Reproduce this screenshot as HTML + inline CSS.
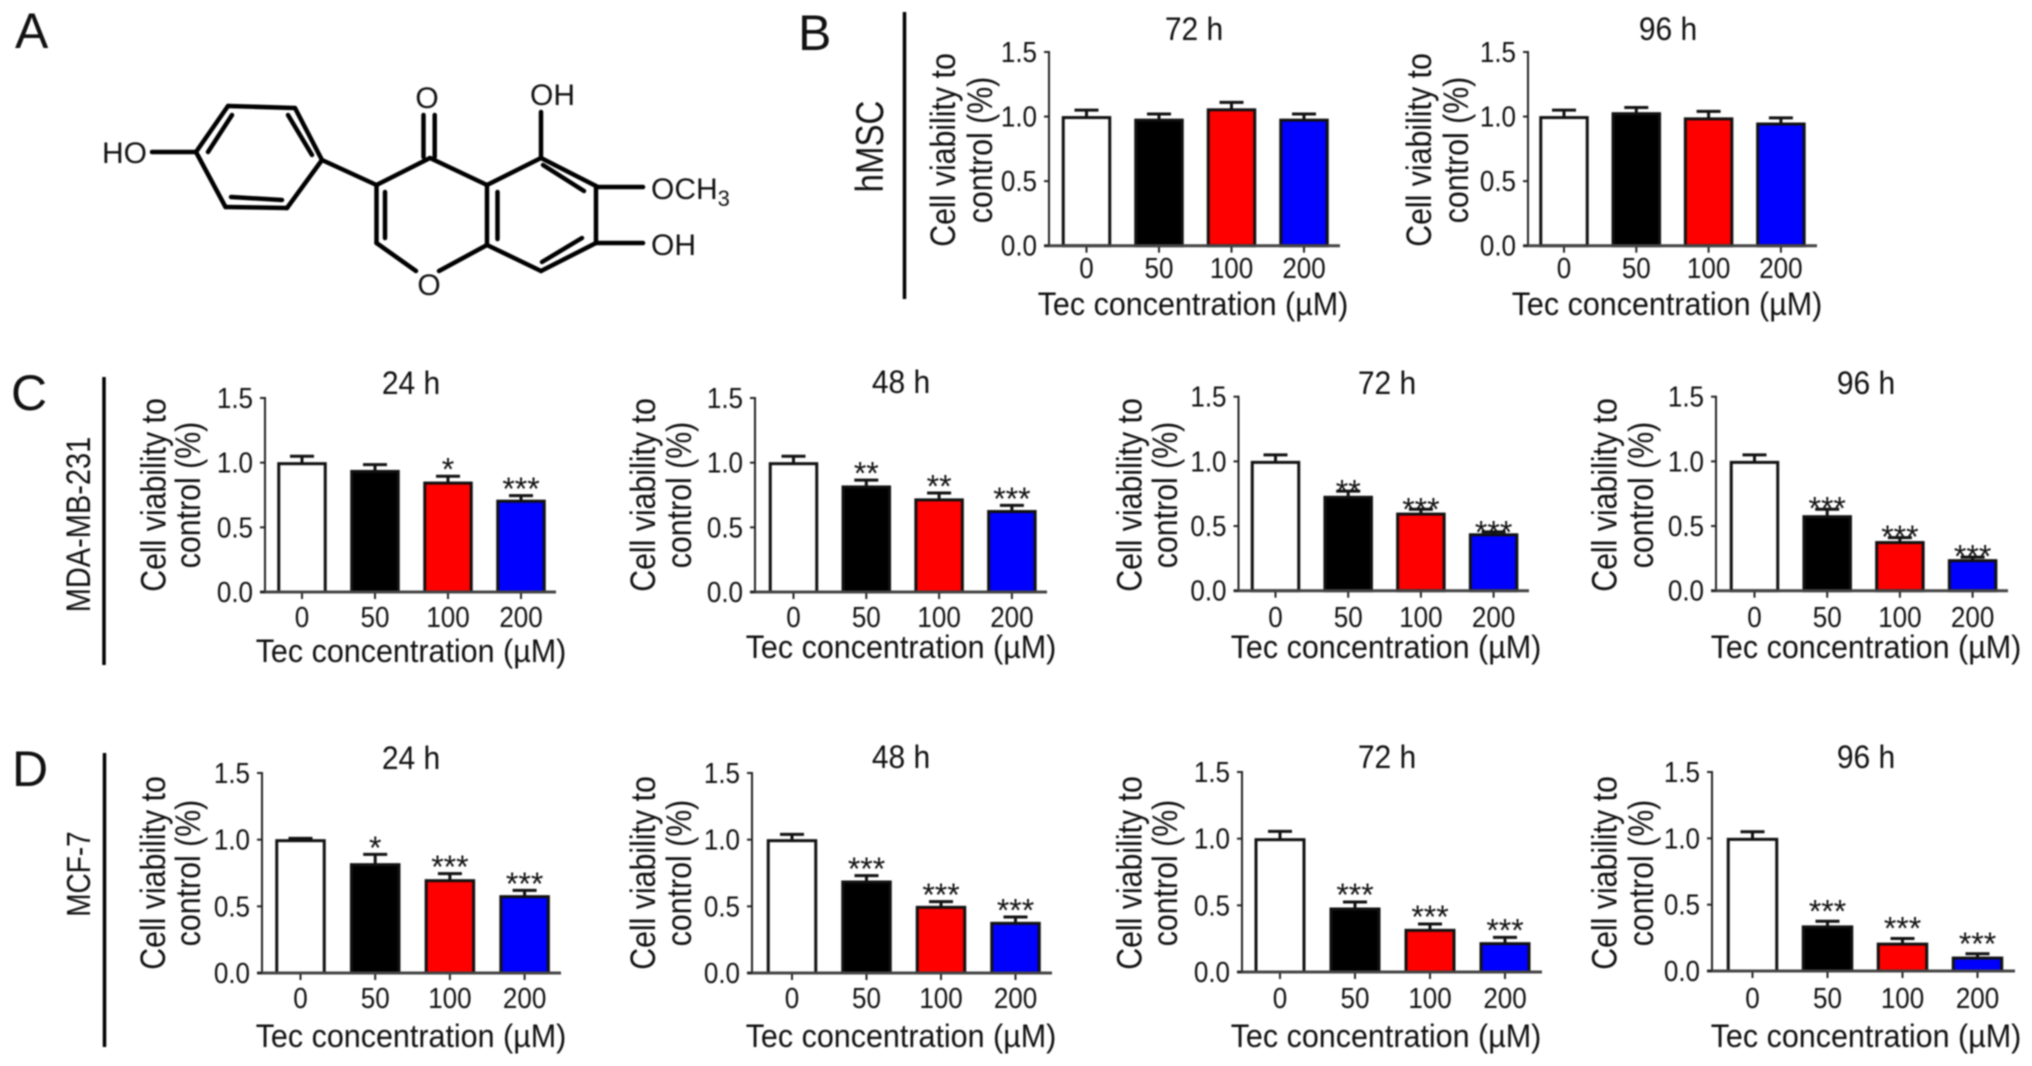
<!DOCTYPE html>
<html lang="en">
<head>
<meta charset="utf-8">
<title>Tectorigenin cell viability figure</title>
<style>
html,body{margin:0;padding:0;background:#fff;width:2032px;height:1066px;overflow:hidden}
svg{display:block;filter:blur(0.85px)}
text{font-family:"Liberation Sans",sans-serif;fill:#111}
.mol line{stroke:#000;stroke-width:4.5;stroke-linecap:round}
</style>
</head>
<body>
<svg id="figure" xmlns="http://www.w3.org/2000/svg" width="2032" height="1066" viewBox="0 0 2032 1066">
  <rect width="2032" height="1066" fill="#fff"/>
  <text x="15" y="48" font-size="50">A</text>
  <text x="798" y="50" font-size="50">B</text>
  <text x="11" y="410" font-size="50">C</text>
  <text x="12" y="786" font-size="50">D</text>

  <line x1="904.5" y1="12" x2="904.5" y2="299" stroke="#000" stroke-width="3.5"/>
  <line x1="104" y1="377" x2="104" y2="665" stroke="#000" stroke-width="3.5"/>
  <line x1="104.5" y1="753" x2="104.5" y2="1047" stroke="#000" stroke-width="3.5"/>

  <text transform="translate(883 146.5) rotate(-90) scale(1 1.18)" text-anchor="middle" font-size="33">hMSC</text>
  <text transform="translate(90 524.5) rotate(-90) scale(1 1.18)" text-anchor="middle" font-size="29">MDA-MB-231</text>
  <text transform="translate(90 874) rotate(-90) scale(1 1.18)" text-anchor="middle" font-size="28">MCF-7</text>

  <g class="mol">
    <line x1="152" y1="152" x2="196" y2="152"/>
    <line x1="196" y1="152" x2="228" y2="106"/>
    <line x1="228" y1="106" x2="295" y2="108"/>
    <line x1="295" y1="108" x2="322" y2="160"/>
    <line x1="322" y1="160" x2="287" y2="208"/>
    <line x1="287" y1="208" x2="225.5" y2="207"/>
    <line x1="225.5" y1="207" x2="196" y2="152"/>
    <line x1="232" y1="115" x2="208" y2="152"/>
    <line x1="288" y1="115" x2="312" y2="155"/>
    <line x1="282" y1="200" x2="231" y2="197"/>
    <line x1="322" y1="160" x2="376.5" y2="185"/>
    <line x1="376.5" y1="185" x2="430" y2="158"/>
    <line x1="430" y1="158" x2="487" y2="185"/>
    <line x1="487" y1="185" x2="487" y2="245"/>
    <line x1="487" y1="245" x2="439" y2="271"/>
    <line x1="376.5" y1="185" x2="376.5" y2="243"/>
    <line x1="376.5" y1="243" x2="416" y2="271"/>
    <line x1="385" y1="192" x2="385" y2="238"/>
    <line x1="423.5" y1="115" x2="423.5" y2="157"/>
    <line x1="434.7" y1="115" x2="434.7" y2="157"/>
    <line x1="487" y1="185" x2="541" y2="158"/>
    <line x1="541" y1="158" x2="596" y2="186"/>
    <line x1="596" y1="186" x2="596" y2="243"/>
    <line x1="596" y1="243" x2="541" y2="271"/>
    <line x1="541" y1="271" x2="487" y2="245"/>
    <line x1="541" y1="112" x2="541" y2="158"/>
    <line x1="543" y1="165" x2="584" y2="191"/>
    <line x1="497.5" y1="192" x2="497.5" y2="239"/>
    <line x1="582" y1="238" x2="542" y2="262"/>
    <line x1="596" y1="187" x2="643" y2="187"/>
    <line x1="596" y1="243" x2="643" y2="243"/>
    <text x="102" y="163" font-size="30">HO</text>
    <text x="427" y="108" font-size="30" text-anchor="middle">O</text>
    <text x="530" y="105" font-size="30">OH</text>
    <text x="651" y="199" font-size="30">OCH<tspan font-size="22" dy="7">3</tspan></text>
    <text x="651" y="255" font-size="30">OH</text>
    <text x="429" y="295" font-size="30" text-anchor="middle">O</text>
  </g>
  <g id="charts"></g>
</svg>
<script>
var concentrations = ["0", "50", "100", "200"];
var yTicks = [0, 0.5, 1, 1.5];
var yTickLabels = ["0.0", "0.5", "1.0", "1.5"];

var hmsc72Values = [1.00, 0.98, 1.06, 0.98];
var hmsc72Errors = [0.05, 0.04, 0.05, 0.04];
var hmsc96Values = [1.00, 1.03, 0.99, 0.95];
var hmsc96Errors = [0.05, 0.04, 0.05, 0.04];

var mda24Values = [1.00, 0.94, 0.85, 0.71];
var mda24Errors = [0.05, 0.045, 0.045, 0.035];
var mda24Stars = ["", "", "*", "***"];
var mda48Values = [1.00, 0.82, 0.72, 0.63];
var mda48Errors = [0.05, 0.045, 0.045, 0.04];
var mda48Stars = ["", "**", "**", "***"];
var mda72Values = [1.00, 0.73, 0.60, 0.44];
var mda72Errors = [0.05, 0.04, 0.03, 0.015];
var mda72Stars = ["", "**", "***", "***"];
var mda96Values = [1.00, 0.58, 0.38, 0.24];
var mda96Errors = [0.05, 0.05, 0.03, 0.02];
var mda96Stars = ["", "***", "***", "***"];

var mcf24Values = [1.00, 0.82, 0.70, 0.58];
var mcf24Errors = [0.01, 0.07, 0.045, 0.04];
var mcf24Stars = ["", "*", "***", "***"];
var mcf48Values = [1.00, 0.69, 0.50, 0.38];
var mcf48Errors = [0.04, 0.04, 0.035, 0.04];
var mcf48Stars = ["", "***", "***", "***"];
var mcf72Values = [1.00, 0.48, 0.32, 0.22];
var mcf72Errors = [0.055, 0.045, 0.04, 0.04];
var mcf72Stars = ["", "***", "***", "***"];
var mcf96Values = [1.00, 0.34, 0.21, 0.105];
var mcf96Errors = [0.05, 0.035, 0.035, 0.025];
var mcf96Stars = ["", "***", "***", "***"];

var barFills = ["#ffffff", "#000000", "#ff0000", "#0000ff"];

var panels = [
  {id:"hmsc-72h", title:"72 h", v:hmsc72Values, e:hmsc72Errors, s:null, ax:1049, y0:245.7, y15:52, c0:1086.5, pitch:72.5, bw:49.5, end:1340, t1:955, t2:992, ty:150, titleX:1194, titleY:40, xTitleX:1193, xTitleY:315, tickY:278, gap:14},
  {id:"hmsc-96h", title:"96 h", v:hmsc96Values, e:hmsc96Errors, s:null, ax:1528, y0:245.7, y15:52, c0:1564, pitch:72.3, bw:49.5, end:1817, t1:1431, t2:1468, ty:150, titleX:1668, titleY:40, xTitleX:1667, xTitleY:315, tickY:278, gap:14},
  {id:"mda-24h", title:"24 h", v:mda24Values, e:mda24Errors, s:mda24Stars, ax:265, y0:592, y15:398, c0:302, pitch:73, bw:49.5, end:556, t1:165.5, t2:200, ty:495, titleX:411, titleY:394, xTitleX:411, xTitleY:662, tickY:627, gap:14},
  {id:"mda-48h", title:"48 h", v:mda48Values, e:mda48Errors, s:mda48Stars, ax:755, y0:592, y15:398, c0:793.5, pitch:72.8, bw:49.5, end:1047, t1:655, t2:691, ty:495, titleX:901, titleY:393, xTitleX:901, xTitleY:658, tickY:627, gap:14},
  {id:"mda-72h", title:"72 h", v:mda72Values, e:mda72Errors, s:mda72Stars, ax:1238.5, y0:590.7, y15:396.7, c0:1275.5, pitch:72.7, bw:49.5, end:1529, t1:1141.5, t2:1177, ty:495, titleX:1387, titleY:394, xTitleX:1386, xTitleY:658, tickY:627, gap:7},
  {id:"mda-96h", title:"96 h", v:mda96Values, e:mda96Errors, s:mda96Stars, ax:1716, y0:590.7, y15:396.7, c0:1754.5, pitch:72.7, bw:49.5, end:2008, t1:1616.5, t2:1653, ty:495, titleX:1866, titleY:394, xTitleX:1866, xTitleY:658, tickY:627, gap:8},
  {id:"mcf-24h", title:"24 h", v:mcf24Values, e:mcf24Errors, s:mcf24Stars, ax:262, y0:973, y15:773, c0:300.5, pitch:74.7, bw:50.5, end:561, t1:165, t2:200, ty:873, titleX:411, titleY:769, xTitleX:411, xTitleY:1047, tickY:1008, gap:14},
  {id:"mcf-48h", title:"48 h", v:mcf48Values, e:mcf48Errors, s:mcf48Stars, ax:752, y0:973, y15:773, c0:792, pitch:74.5, bw:50.5, end:1052, t1:655, t2:691, ty:873, titleX:901, titleY:768, xTitleX:901, xTitleY:1047, tickY:1008, gap:14},
  {id:"mcf-72h", title:"72 h", v:mcf72Values, e:mcf72Errors, s:mcf72Stars, ax:1242, y0:972, y15:772, c0:1280, pitch:75, bw:51, end:1542, t1:1141.5, t2:1177, ty:873, titleX:1387, titleY:768, xTitleX:1386, xTitleY:1047, tickY:1008, gap:14.5},
  {id:"mcf-96h", title:"96 h", v:mcf96Values, e:mcf96Errors, s:mcf96Stars, ax:1712, y0:971, y15:772, c0:1752.5, pitch:75, bw:51.5, end:2015, t1:1616.5, t2:1653, ty:873, titleX:1866, titleY:768, xTitleX:1866, xTitleY:1047, tickY:1008, gap:17.5}
];

var NS = "http://www.w3.org/2000/svg";
function make(tag, attrs, parent, content) {
  var el = document.createElementNS(NS, tag);
  for (var k in attrs) { el.setAttribute(k, attrs[k]); }
  if (content !== undefined) { el.textContent = content; }
  parent.appendChild(el);
  return el;
}
function tall(x, y, sy) {
  return "translate(" + x + " " + y + ") scale(1 " + sy + ")";
}

var root = document.getElementById("charts");
panels.forEach(function (p) {
  var yScale = function (val) { return p.y0 - (val / 1.5) * (p.y0 - p.y15); };
  var xScale = function (i) { return p.c0 + i * p.pitch; };
  var g = make("g", {}, root);
  
  

  var title = make("text", {transform: tall(p.titleX, p.titleY, 1.08), "font-size": 30, "text-anchor": "middle"}, g, p.title);
  
  

  var yt1 = make("text", {transform: "translate(" + p.t1 + " " + p.ty + ") rotate(-90) scale(1 1.15)", "font-size": 30.3, "text-anchor": "middle"}, g, "Cell viability to");
  
  
  var yt2 = make("text", {transform: "translate(" + p.t2 + " " + p.ty + ") rotate(-90) scale(1 1.15)", "font-size": 30.3, "text-anchor": "middle"}, g, "control (%)");
  
  

  var xt = make("text", {transform: tall(p.xTitleX, p.xTitleY, 1.06), "font-size": 30.5, "text-anchor": "middle"}, g, "Tec concentration (\u00b5M)");
  
  

  p.v.forEach(function (val, i) {
    var cx = xScale(i);
    var top = yScale(val);
    var errTop = yScale(val + p.e[i]);
    var err = make("path", {d: "M" + cx + " " + top + "V" + errTop + "M" + (cx - 12) + " " + errTop + "H" + (cx + 12), stroke: "#111", "stroke-width": 3, fill: "none"}, g);
    
    
    var bar = make("rect", {x: cx - p.bw / 2 + 1.5, y: top + 1, width: p.bw - 3, height: p.y0 - top - 1, fill: barFills[i], stroke: "#111", "stroke-width": 3}, g);
    
    
    if (p.s && p.s[i]) {
      var star = make("text", {x: cx, y: errTop - p.gap + 18.5, "font-size": 32, "text-anchor": "middle"}, g, p.s[i]);
      
      
    }
    var tick = make("line", {x1: cx, x2: cx, y1: p.y0, y2: p.y0 + 7, stroke: "#222", "stroke-width": 2}, g);
    
    
    var lab = make("text", {transform: tall(cx, p.tickY, 1.1), "font-size": 26, "text-anchor": "middle"}, g, concentrations[i]);
    
    
  });

  var yAxis = make("line", {x1: p.ax, x2: p.ax, y1: p.y15 - 1, y2: p.y0, stroke: "#222", "stroke-width": 2}, g);
  
  
  var xAxis = make("line", {x1: p.ax - 5, x2: p.end, y1: p.y0, y2: p.y0, stroke: "#444", "stroke-width": 3}, g);
  
  

  yTicks.forEach(function (t, i) {
    var ty = yScale(t);
    var tk = make("line", {x1: p.ax - 5, x2: p.ax, y1: ty, y2: ty, stroke: "#222", "stroke-width": 2}, g);
    
    
    var tl = make("text", {transform: tall(p.ax - 12, ty + 10, 1.12), "font-size": 26, "text-anchor": "end"}, g, yTickLabels[i]);
    
    
  });
});
</script>
</body>
</html>
